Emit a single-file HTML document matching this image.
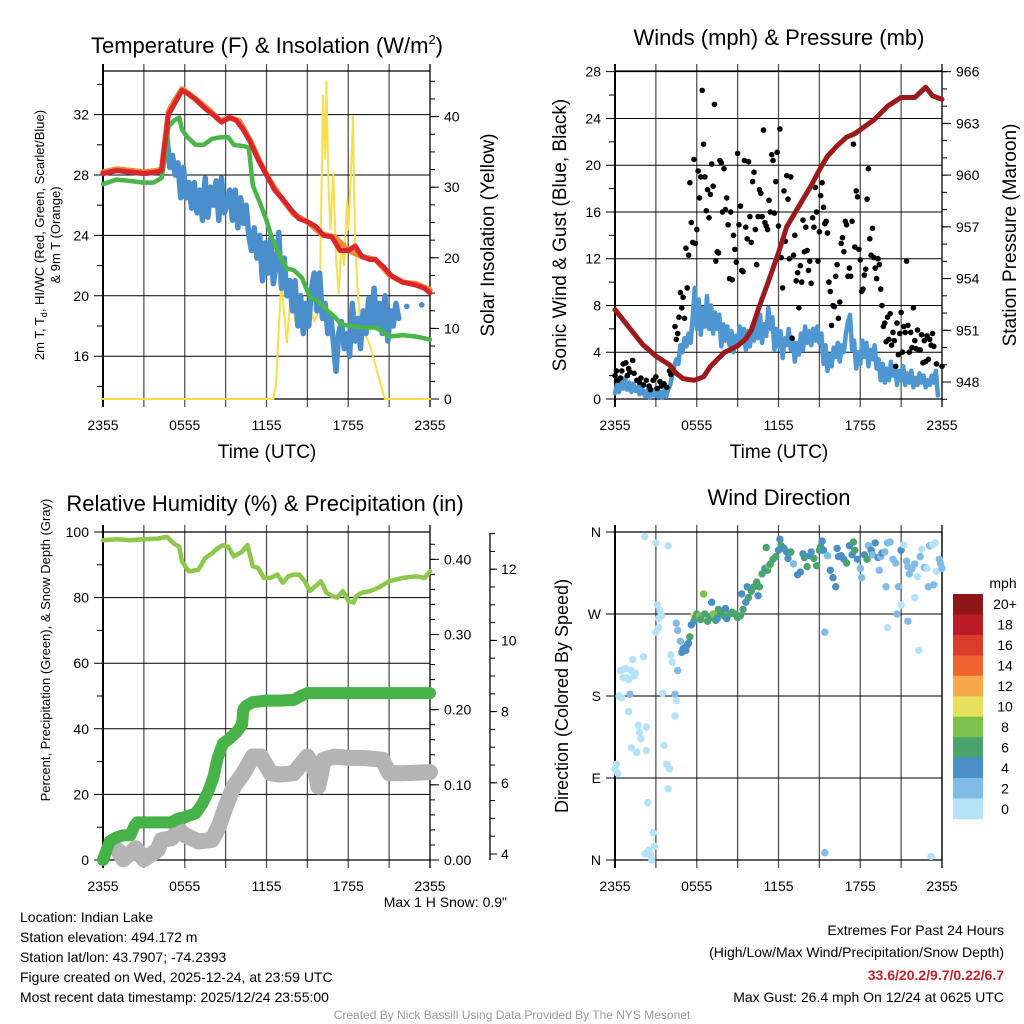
<!DOCTYPE html>
<html><head><meta charset="utf-8"><style>
html,body{margin:0;padding:0;background:#fff}
svg{display:block;font-family:"Liberation Sans",Arial,sans-serif}
</style></head><body>
<svg id="chart" width="1024" height="1024" viewBox="0 0 1024 1024" xmlns="http://www.w3.org/2000/svg">
<g id="static" font-size="14" fill="#000">
<text x="267" y="53" font-size="22" text-anchor="middle">Temperature (F) &amp; Insolation (W/m<tspan dy="-9" font-size="13">2</tspan><tspan dy="9">)</tspan></text>
<text x="779" y="45" font-size="22" text-anchor="middle">Winds (mph) &amp; Pressure (mb)</text>
<text x="265" y="511" font-size="22" text-anchor="middle">Relative Humidity (%) &amp; Precipitation (in)</text>
<text x="779" y="505" font-size="22" text-anchor="middle">Wind Direction</text>
<text x="267" y="458" font-size="19" text-anchor="middle">Time (UTC)</text>
<text x="779" y="458" font-size="19" text-anchor="middle">Time (UTC)</text>
<text transform="translate(44,235) rotate(-90)" font-size="13" text-anchor="middle">2m T, T<tspan font-size="9" dy="3">d</tspan><tspan dy="-3">, HI/WC (Red, Green, Scarlet/Blue)</tspan></text>
<text transform="translate(60,235) rotate(-90)" font-size="13" text-anchor="middle">&amp; 9m T (Orange)</text>
<text transform="translate(494,235) rotate(-90)" font-size="19" text-anchor="middle">Solar Insolation (Yellow)</text>
<text transform="translate(566,235) rotate(-90)" font-size="19" text-anchor="middle">Sonic Wind &amp; Gust (Blue, Black)</text>
<text transform="translate(1016,235) rotate(-90)" font-size="19" text-anchor="middle">Station Pressure (Maroon)</text>
<text transform="translate(50,650) rotate(-90)" font-size="13" text-anchor="middle">Percent, Precipitation (Green), &amp; Snow Depth (Gray)</text>
<text transform="translate(568,696) rotate(-90)" font-size="18" text-anchor="middle">Direction (Colored By Speed)</text>
<text x="507" y="907" text-anchor="end">Max 1 H Snow: 0.9"</text>
<g>
<text x="20" y="922">Location: Indian Lake</text>
<text x="20" y="942">Station elevation: 494.172 m</text>
<text x="20" y="962">Station lat/lon: 43.7907; -74.2393</text>
<text x="20" y="982">Figure created on Wed, 2025-12-24, at 23:59 UTC</text>
<text x="20" y="1002">Most recent data timestamp: 2025/12/24 23:55:00</text>
</g>
<g text-anchor="end">
<text x="1004" y="935">Extremes For Past 24 Hours</text>
<text x="1004" y="957">(High/Low/Max Wind/Precipitation/Snow Depth)</text>
<text x="1004" y="980" fill="#c8202a" font-weight="bold">33.6/20.2/9.7/0.22/6.7</text>
<text x="1004" y="1002">Max Gust: 26.4 mph On 12/24 at 0625 UTC</text>
</g>
<text x="512" y="1019" font-size="12" fill="#999" text-anchor="middle">Created By Nick Bassill Using Data Provided By The NYS Mesonet</text>
</g>
</svg>
<script>
// ---------- DATA ----------
const timeTickLabels = ["2355","0555","1155","1755","2355"];
const tempTicks = [16,20,24,28,32];
const solarTicks = [0,10,20,30,40];
const windTicks = [0,4,8,12,16,20,24,28];
const pressTicks = [948,951,954,957,960,963,966];
const rhTicks = [0,20,40,60,80,100];
const precipTicks = [0,0.1,0.2,0.3,0.4];
const precipTickLabels = ["0.00","0.10","0.20","0.30","0.40"];
const snowTicks = [4,6,8,10,12];
const dirTickLabels = ["N","E","S","W","N"];
const dirTicks = [0,90,180,270,360];
const speedBinLabels = ["20+","18","16","14","12","10","8","6","4","2","0"];
const speedBinColors = ["#8e1518","#ba1b25","#dc3a2b","#ef6530","#f6a84a","#e6e05c","#7dc24b","#4aa46e","#4a8fc7","#80bce6","#b6e2f8"];

const tempTimes = [0,1,2,3,4,4.3,4.6,4.8,5.3,5.8,6.2,6.8,7.5,8.2,8.7,9.3,9.8,10.3,10.8,11.4,12,12.6,13.2,13.8,14.4,15,15.6,16.2,16.8,17.4,18,18.5,19,19.6,20,20.6,21.2,22,23,23.6,24];
const tempValues = [28.1,28.3,28.2,28.1,28.2,28.3,30.5,32,32.8,33.6,33.4,33.0,32.4,31.9,31.5,31.8,31.6,31.0,30.2,29.0,28.0,27.0,26.4,25.7,25.1,24.9,24.6,24.0,23.9,23.0,23.0,23.3,22.6,22.4,22.4,21.9,21.3,20.9,20.7,20.5,20.2];
const temp9mTimes = [0,1,2,3,4,4.3,4.6,4.8,5.3,5.8,6.3,7,7.8,8.6,9.3,10,10.8,11.5,12.2,13,14,15,16,17,18,19,20,21,22,23,24];
const temp9mValues = [28.2,28.4,28.3,28.2,28.3,28.4,30.7,32.2,33.0,33.7,33.4,32.9,32.3,31.6,31.8,31.6,30.3,28.9,27.7,26.6,25.4,24.9,24.1,23.9,23.0,22.6,22.4,21.4,20.9,20.8,20.4];
const dewTimes = [0,1,2,3,3.7,4.3,4.6,4.8,5.2,5.6,5.8,6.2,6.8,7.4,8,8.6,9.2,9.6,10.4,10.7,11,11.5,12,12.4,13,13.5,14,14.6,15.2,15.8,16.5,17,17.5,18.2,19,20,20.6,21,22,23,24];
const dewValues = [27.4,27.7,27.6,27.5,27.5,27.8,29.5,31.2,31.6,31.8,31.0,30.5,30.0,30.0,30.4,30.5,30.5,30.0,29.9,29.8,27.3,26.2,25.0,23.8,22.6,21.8,21.7,21.2,19.9,19.6,19.0,18.6,18.1,18.0,17.9,17.9,17.6,17.3,17.4,17.3,17.1];
const chillTimes = [0,1,2,3,4,4.3,4.5,4.7,4.9,5.1,5.3,5.5,5.7,5.9,6.1,6.3,6.5,6.7,6.9,7.1,7.3,7.5,7.7,7.9,8.1,8.3,8.5,8.7,8.9,9.1,9.3,9.5,9.7,9.9,10.1,10.3,10.5,10.7,10.9,11.1,11.3,11.5,11.7,11.9,12.1,12.3,12.5,12.7,12.9,13.1,13.3,13.5,13.7,13.9,14.1,14.3,14.5,14.7,14.9,15.1,15.3,15.5,15.7,15.9,16.1,16.3,16.5,16.7,16.9,17.1,17.3,17.5,17.7,17.9,18.1,18.3,18.5,18.7,18.9,19.1,19.3,19.5,19.7,19.9,20.1,20.3,20.5,20.7,20.9,21.1,21.3,21.5,21.7];
const chillValues = [28.1,28.3,28.2,28.1,28.2,28.3,29.5,30.5,28.5,29.3,28.0,28.8,26.5,28.5,26.5,27.5,25.8,27.5,25.5,27.0,25.0,27.8,25.2,27.2,26.0,27.6,25.0,27.8,25.5,26.0,27.0,25.0,27.0,24.5,26.5,24.8,26.0,24.0,23.0,24.5,22.5,24.0,21.0,23.5,21.5,23.8,20.8,22.0,24.2,20.5,22.5,20.0,21.0,19.0,21.0,18.0,20.0,17.5,19.5,18.0,20.5,21.5,19.0,21.5,18.5,19.5,17.5,18.8,17.0,15.0,17.5,18.3,16.5,17.5,16.0,19.5,17.0,18.5,16.5,19.0,17.5,19.8,18.0,20.5,18.0,19.5,17.5,20.0,17.0,19.0,18.0,19.5,18.5];
const chillIsolatedTimes = [22.3,23.4];
const chillIsolatedValues = [19.3,19.4];
const solarTimes = [0,12.5,12.7,12.9,13.1,13.3,13.5,13.7,13.9,14.1,14.3,14.5,14.7,14.9,15.1,15.3,15.5,15.7,15.9,16.0,16.15,16.3,16.4,16.55,16.7,16.9,17.1,17.3,17.5,17.7,17.9,18.0,18.2,18.35,18.5,18.7,18.9,19.3,19.7,20.1,20.4,20.7,24];
const solarValues = [0,0,2,10,17,12,8,13,15,11,15,13,14,13,13,12,11,12,13,25,43,34,45,30,24,32,20,15,22,19,28,24,32,40,22,15,10,9,7,4,2,0,0];

const pressTimes = [0,1,2,3,4,4.5,5,5.8,6.5,7,8,9,9.6,10,10.6,11.2,12,12.6,13.5,14.4,15,15.6,16.3,17,17.6,18.3,19,20,21,22,22.8,23.3,24];
const pressValues = [952.2,951.2,950.2,949.5,949.0,948.5,948.2,948.1,948.3,948.9,949.7,950.1,950.5,951.0,952.4,953.7,955.5,957.0,958.2,959.4,960.3,961.1,961.7,962.2,962.4,962.8,963.2,964.0,964.5,964.5,965.1,964.6,964.4];
const sonicTimes = [0,0.15,0.3,0.45,0.6,0.75,0.9,1.05,1.2,1.35,1.5,1.65,1.8,1.95,2.1,2.25,2.4,2.55,2.7,2.85,3.0,3.15,3.3,3.45,3.6,3.75,3.9,4.05,4.2,4.35,4.5,4.65,4.8,4.95,5.1,5.25,5.4,5.55,5.7,5.85,6.0,6.15,6.3,6.45,6.6,6.75,6.9,7.05,7.2,7.35,7.5,7.65,7.8,7.95,8.1,8.25,8.4,8.55,8.7,8.85,9.0,9.15,9.3,9.45,9.6,9.75,9.9,10.05,10.2,10.35,10.5,10.65,10.8,10.95,11.1,11.25,11.4,11.55,11.7,11.85,12.0,12.15,12.3,12.45,12.6,12.75,12.9,13.05,13.2,13.35,13.5,13.65,13.8,13.95,14.1,14.25,14.4,14.55,14.7,14.85,15.0,15.15,15.3,15.45,15.6,15.75,15.9,16.05,16.2,16.35,16.5,16.65,16.8,16.95,17.1,17.25,17.4,17.55,17.7,17.85,18.0,18.15,18.3,18.45,18.6,18.75,18.9,19.05,19.2,19.35,19.5,19.65,19.8,19.95,20.1,20.25,20.4,20.55,20.7,20.85,21.0,21.15,21.3,21.45,21.6,21.75,21.9,22.05,22.2,22.35,22.5,22.65,22.8,22.95,23.1,23.25,23.4,23.55,23.7,23.85,24];
const sonicValues = [0.5,1.2,0.6,1.5,0.9,1.8,0.8,1.4,0.6,1.3,0.7,1.0,0.4,1.1,0.5,0.2,0.8,0.1,0.8,0.3,0.9,0.2,0.6,0.1,0.7,0.2,0.8,1.2,2.0,2.8,3.4,3.0,4.6,4.0,5.2,4.5,5.6,4.8,7.0,9.5,6.0,8.5,5.5,7.8,6.2,8.8,6.0,8.0,5.6,7.4,6.0,7.2,4.5,6.4,5.0,6.2,4.6,5.8,4.0,5.4,4.5,6.2,4.8,6.0,4.2,5.8,4.5,6.2,5.0,6.8,5.2,7.2,4.8,6.4,5.4,7.8,6.0,7.0,4.2,6.0,4.5,5.8,3.5,5.2,4.6,6.0,4.2,5.0,3.2,4.8,3.8,5.6,4.2,6.2,4.8,5.8,4.6,6.0,5.0,6.2,4.8,5.6,3.0,4.6,2.4,3.8,2.8,4.4,3.6,4.8,3.2,4.6,4.0,5.6,6.6,7.2,4.2,5.0,2.6,4.0,3.0,5.0,3.6,4.8,2.8,4.2,3.4,4.6,2.6,3.4,1.6,3.0,1.4,2.6,1.6,3.2,2.0,2.8,1.2,2.4,1.6,2.8,1.2,2.2,1.4,2.4,1.0,1.8,1.2,2.2,1.4,2.0,1.0,1.6,1.2,2.0,1.4,2.4,0.3];
const gustObs = [[0,2],[0.1,2.4],[0.2,1.6],[0.4,1.8],[0.5,2.4],[0.6,3],[0.8,3.1],[0.9,2],[1.0,2.6],[1.1,2.3],[1.3,3.3],[1.4,2.2],[1.6,1.6],[1.8,1.4],[1.9,1.8],[2.1,1.2],[2.3,1.6],[2.5,1.1],[2.6,0.8],[2.8,1.6],[3,1.9],[3.1,0.9],[3.3,1.5],[3.4,1.1],[3.6,1.3],[3.8,1.0],[4.0,2.4],[4.1,2.1],
[4.4,6.2],[4.5,5.1],[4.6,5.6],[4.7,7],[4.8,9.1],[4.9,7.8],[5.0,8.7],[5.1,6.9],[5.2,12.9],[5.3,9.5],[5.4,12.3],[5.5,18.5],[5.6,15.1],[5.7,13.4],[5.8,20.5],[5.9,13.3],[6.0,14.5],[6.1,19.5],[6.2,17.2],[6.3,19.0],[6.4,26.4],[6.5,21.8],[6.6,19.0],[6.7,16.1],[6.8,17.9],[6.9,15.5],[7.0,17.5],[7.1,20.1],[7.2,18.2],[7.3,25.2],[7.4,11.8],[7.5,12.6],[7.6,12.5],[7.7,20.4],[7.8,20.2],[7.9,16],[8.0,19.7],[8.1,16.2],[8.2,17.2],[8.3,14.9],[8.4,10.3],[8.5,16],[8.6,10.2],[8.7,14],[8.8,12.8],[8.9,11.7],[9.0,21],[9.1,14.9],[9.2,16.5],[9.3,11],[9.4,10.9],[9.5,20.4],[9.6,14.7],[9.7,13.7],[9.8,20.3],[9.9,15.6],[10.0,13.4],[10.1,18.6],[10.2,19.4],[10.3,14.5],[10.4,11.5],[10.5,15.6],[10.6,17.9],[10.7,17.6],[10.8,15.6],[10.9,23],[11.0,15.1],[11.1,14.8],[11.2,14.5],[11.3,17.0],[11.4,16.0],[11.5,20.9],[11.6,20.4],[11.7,15.9],[11.8,18.6],[11.9,21.1],[12.0,14.8],[12.1,23.1],[12.2,12.1],[12.3,9.5],[12.4,17.8],[12.5,13.5],[12.6,19.1],[12.7,17.1],[12.8,12],[12.9,19],[13.0,5.2],[13.1,12.3],[13.2,14],[13.3,10.1],[13.4,10.8],[13.5,7.8],[13.6,11.4],[13.7,10],[13.8,15.3],[13.9,12.6],[14.0,14.7],[14.1,12.7],[14.2,11],[14.3,11.8],[14.4,9.9],[14.5,15.5],[14.6,14.7],[14.7,18.1],[14.8,16],[14.9,11.8],[15.0,14.3],[15.1,17.4],[15.2,18.5],[15.3,16.4],[15.4,15.0],[15.5,15.2],[15.6,14.2],[15.7,10.0],[15.8,9.2],[15.9,6.3],[16.0,8.0],[16.1,7.9],[16.2,10.5],[16.3,11.5],[16.4,6.9],[16.5,8.3],[16.6,13.3],[16.7,13.8],[16.8,12.6],[16.9,15.2],[17.0,14.9],[17.1,10.5],[17.2,11.2],[17.3,10.5],[17.4,15.2],[17.5,21.8],[17.6,13.0],[17.7,17.8],[17.8,17.3],[17.9,12.8],[18.0,11.9],[18.1,9.2],[18.2,9.4],[18.3,10.6],[18.4,11.1],[18.5,17.1],[18.6,19.7],[18.7,13.7],[18.8,12.3],[18.9,14.6],[19.0,12.1],[19.1,11.2],[19.2,10.3],[19.3,12],[19.4,11.5],[19.5,9.4],[19.6,8.0],[19.7,6.2],[19.8,6.5],[19.9,4.9],[20.0,7.0],[20.1,5.1],[20.2,7.3],[20.3,4.6],[20.4,5.7],[20.5,5.0],[20.6,2.8],[20.7,6.5],[20.8,3.8],[20.9,5.6],[21.0,7.4],[21.1,4.0],[21.2,6.2],[21.3,5.7],[21.4,11.8],[21.5,6.3],[21.6,4.0],[21.7,5.7],[21.8,4.4],[21.9,7.8],[22.0,5.0],[22.1,4.3],[22.2,5.9],[22.3,4.2],[22.4,4.2],[22.5,5.5],[22.6,3.1],[22.7,5.0],[22.8,3.2],[22.9,5.4],[23.0,3.4],[23.1,5.1],[23.2,4.6],[23.3,5.6],[23.4,4.5],[23.6,3.0],[24,2.8]];

const rhTimes = [0,1,2,3,4,4.7,5.2,5.6,5.8,6.3,7,7.5,8,8.4,8.8,9.2,9.6,10.2,10.6,11,11.4,11.8,12.3,12.8,13.2,13.6,14,14.4,14.8,15.2,15.6,16,16.4,16.8,17.2,17.6,18,18.4,18.6,19,19.6,20.2,20.6,21,22,23,23.6,24];
const rhValues = [97.5,97.8,97.5,97.8,98,98.5,96.5,95.5,91,88,88.5,92,93.5,95,96,95.5,92.5,94,96,89.5,89,86,86,87,84.5,86.5,87,87,85,82,83.5,85,81.5,80.5,80,82,79,78.5,80.5,81.5,82,83,84,85,86,86.5,86,88];
const precipTimes = [0,0.2,0.5,1,1.5,2,2.3,2.5,3,4,5,5.5,6,6.8,7.3,7.7,8.1,8.4,8.8,9.2,9.8,10.2,10.3,10.5,11,12,13,14,14.5,15,24];
const precipValues = [0,0.01,0.025,0.03,0.033,0.033,0.045,0.05,0.05,0.05,0.05,0.055,0.057,0.062,0.075,0.09,0.11,0.135,0.155,0.16,0.17,0.18,0.2,0.205,0.21,0.212,0.212,0.213,0.218,0.222,0.222];
const snowTimes = [1.1,1.5,2.4,3,4,4.3,5,5.6,6,7,8,8.5,9,9.6,10.3,11,11.6,12.3,13,14,15,15.6,15.8,16.2,17,18,19,20.5,21,22,24];
const snowValues = [4.1,3.85,4.16,3.85,4.11,4.39,4.44,4.67,4.53,4.35,4.4,4.77,5.33,5.9,6.27,6.74,6.74,6.27,6.23,6.27,6.74,6.3,5.9,6.65,6.74,6.7,6.7,6.65,6.27,6.27,6.3];

// [hour, direction deg, speed mph]
const dirObs = [[0,100,1],[0.1,105,1],[0.2,95,1],[0.3,180,1],[0.4,208,1],[0.5,178,1],[0.6,200,1],[0.7,210,1],[0.8,210,1],[0.9,200,1],[1.0,198,1],[1.1,182,3],[1.2,208,1],[1.3,220,1],[1.4,202,1],[1.5,205,1],[1.0,163,1],[1.2,123,1],[1.6,118,1],[1.7,148,1],[1.8,140,1],[1.9,133,1],[2.1,223,1],[2.2,7,1],[2.3,146,1],[2.4,63,1],[2.5,11,1],[2.6,5,1],[2.7,0,1],[2.8,30,1],[2.3,120,1],[2.2,355,1],[2.9,15,1],[3.0,348,1],[3.0,250,1],[3.2,255,1],[3.1,280,1],[3.3,274,1],[3.2,265,1],[3.5,183,1],[3.6,126,1],[3.8,105,1],[3.9,78,1],[4.0,100,1],[4.1,225,1],[4.2,217,1],[4.4,182,3],[4.5,175,1],[4.4,158,1],[3.9,345,1],[3.4,268,1],[4.6,208,3],
[4.5,260,3],[4.6,252,3],[4.8,240,3],[4.9,228,4],[5.0,232,4],[5.1,233,4],[5.2,230,4],[5.3,236,4],[5.5,245,6],[5.6,258,4],[5.8,262,4],[5.4,238,4],[5.8,268,10],[5.9,266,6],[6.0,270,7],[6.2,268,8],[6.3,264,6],[6.5,292,8],[6.6,270,6],[6.8,262,6],[7.0,266,7],[7.1,283,4],[7.2,270,8],[7.4,263,6],[7.5,265,4],[7.6,275,6],[7.8,271,7],[8.0,268,6],[8.2,265,5],[8.4,270,7],[8.6,272,6],[8.1,276,4],[8.8,270,7],[9.0,266,6],[9.2,268,6],[9.3,292,4],[9.4,275,6],[9.6,283,4],[9.7,300,4],[9.8,288,6],[10.0,295,6],[10.2,300,7],[10.4,305,6],[10.5,290,4],[10.6,300,6],[10.8,314,6],[11.0,320,4],[11.1,343,6],[11.2,318,6],[11.3,323,8],[11.4,325,6],[11.6,330,6],[11.8,333,6],[12.0,340,4],[12.1,352,4],[12.2,345,6],[12.4,342,4],[12.6,338,4],[12.7,331,4],[12.9,338,6],[13.1,325,2],[13.4,313,4],[13.6,316,4],[13.8,336,4],[13.9,332,6],[14.1,322,6],[14.3,334,5],[14.4,338,4],[14.6,331,6],[14.8,323,6],[15.0,340,6],[15.1,344,6],[15.2,350,4],[15.3,340,4],[15.4,250,3],[15.4,8,3],[15.6,334,2],[15.8,318,4],[16.0,310,4],[16.2,300,4],[16.3,342,4],[16.4,333,4],[16.6,334,4],[16.8,330,4],[17.0,326,6],[17.2,345,4],[17.4,335,4],[17.5,349,6],[17.6,340,6],[17.8,330,4],[18.0,320,3],[18.1,310,3],[18.3,335,4],[18.5,330,6],[18.6,345,3],[18.8,340,4],[18.9,335,3],[19.1,348,4],[19.3,332,4],[19.4,318,2],[19.5,333,3],[19.6,337,4],[19.8,338,3],[20.0,348,3],[20.2,349,2],[20.4,330,3],[20.6,326,2],[20.7,270,3],[20.8,300,2],[21.0,340,4],[21.2,346,1],[21.4,328,3],[21.5,322,2],[21.6,314,2],[21.8,320,3],[22.0,325,2],[22.2,311,1],[22.4,333,3],[22.5,341,1],[22.7,321,2],[22.9,320,1],[23.0,300,2],[23.1,345,2],[23.3,346,1],[23.4,302,2],[23.6,317,1],[23.8,330,2],[23.9,325,2],[22.0,288,1],[21.0,280,1],[21.5,262,2],[22.3,230,1],[20.0,255,1],[23.2,4,1],[23.5,348,1],[24.0,320,2],[19.9,300,2]];

// ---------- RENDER ----------
const NS = "http://www.w3.org/2000/svg";
const svg = document.getElementById('chart');
function mk(tag, attrs, parent) {
  const e = document.createElementNS(NS, tag);
  for (const k in attrs) e.setAttribute(k, attrs[k]);
  (parent || svg).appendChild(e);
  return e;
}
function group(name) {
  const g = mk('g', {});
  
  
  return g;
}
function line(g, x1, y1, x2, y2, stroke, w) {
  return mk('line', {x1:x1, y1:y1, x2:x2, y2:y2, stroke:stroke, 'stroke-width':w}, g);
}
function txt(g, x, y, s, anchor, size) {
  const t = mk('text', {x:x, y:y, 'text-anchor':anchor, 'font-size':size || 14}, g);
  t.textContent = s;
  return t;
}
function polyline(g, xs, ys, xf, yf, color, w, name) {
  const pts = xs.map((t, i) => xf(t).toFixed(1) + ',' + yf(ys[i]).toFixed(1)).join(' ');
  const p = mk('polyline', {points:pts, fill:'none', stroke:color, 'stroke-width':w, 'stroke-linejoin':'round', 'stroke-linecap':'round'}, g);
  
  
  return p;
}
function speedColor(s) {
  const bins = [2,4,6,8,10,12,14,16,18,20];
  let i = 0;
  while (i < bins.length && s >= bins[i]) i++;
  return speedBinColors[10 - i];
}

const X0 = 103, X1 = 430, X0b = 615, X1b = 942;
const xA = t => X0 + t / 24 * (X1 - X0);
const xB = t => X0b + t / 24 * (X1b - X0b);

function frame(g, x0, x1, y0, y1, hVals, yf, hLabels) {
  for (let h = 0; h <= 24; h += 3) {
    const x = x0 + h / 24 * (x1 - x0);
    line(g, x, y0 - 7, x, y1 + 8, (h === 0 || h === 24) ? '#000' : '#555', (h === 0) ? 2 : 1.3);
  }
  hVals.forEach((v, i) => {
    const y = yf(v);
    line(g, x0 - 9, y, x1, y, '#000', 1);
    if (hLabels) txt(g, x0 - 14, y + 5, hLabels[i], 'end', 14);
  });
  line(g, x0, y0, x1, y0, '#000', 1.2);
  line(g, x0, y1, x1, y1, '#000', 1.2);
  timeTickLabels.forEach((s, i) => txt(g, x0 + i * 6 / 24 * (x1 - x0), y1 + 31, s, 'middle', 14));
}
function rightAxis(g, x, vals, yf, labels, minorVals) {
  (minorVals || []).forEach(v => line(g, x, yf(v), x + 5, yf(v), '#000', 1));
  vals.forEach((v, i) => {
    line(g, x, yf(v), x + 9, yf(v), '#000', 1);
    txt(g, x + 14, yf(v) + 5, labels[i], 'start', 14);
  });
}
function range(a, b, s) { const r = []; for (let v = a; v <= b + 1e-9; v += s) r.push(+v.toFixed(4)); return r; }

// Panel 1
(function () {
  const yT = v => 175 - (v - 28) * 15.1;
  const yS = v => 399 - v * 7.06;
  const g = group('temperature-panel');
  frame(g, X0, X1, 71, 399, tempTicks, yT, tempTicks.map(String));
  range(14, 34, 2).forEach(v => { if (v % 4) line(g, X0 - 6, yT(v), X0, yT(v), '#000', 1); });
  rightAxis(g, X1, solarTicks, yS, solarTicks.map(String), range(0, 45, 2.5));
  polyline(g, solarTimes, solarValues, xA, yS, '#f7de4a', 2, 'insolation-line');
  polyline(g, chillTimes, chillValues, xA, yT, '#4a8fcb', 5.5, 'wind-chill-line');
  chillIsolatedTimes.forEach((t, i) => {
    const c = mk('circle', {cx:xA(t), cy:yT(chillIsolatedValues[i]), r:2.8, fill:'#4a8fcb'}, g);
    
    
  });
  polyline(g, dewTimes, dewValues, xA, yT, '#4bb44a', 4.5, 'dewpoint-line');
  polyline(g, temp9mTimes, temp9mValues, xA, yT, '#f08a3a', 5.5, 'temp-9m-line');
  polyline(g, tempTimes, tempValues, xA, yT, '#d8262a', 5, 'temp-2m-line');
})();

// Panel 2
(function () {
  const yW = v => 399 - v * 11.69;
  const yP = v => 382 - (v - 948) * 17.24;
  const g = group('wind-panel');
  frame(g, X0b, X1b, 71, 399, windTicks, yW, windTicks.map(String));
  range(2, 26, 4).forEach(v => line(g, X0b - 6, yW(v), X0b, yW(v), '#000', 1));
  rightAxis(g, X1b, pressTicks, yP, pressTicks.map(String), range(947, 966, 1));
  polyline(g, sonicTimes, sonicValues, xB, yW, '#4f97d2', 4.5, 'sonic-wind-line');
  gustObs.forEach(o => {
    const c = mk('circle', {cx:xB(o[0]).toFixed(1), cy:yW(o[1]).toFixed(1), r:2.8, fill:'#000'}, g);
    
    
  });
  polyline(g, pressTimes, pressValues, xB, yP, '#9b1a1c', 5, 'pressure-line');
})();

// Panel 3
(function () {
  const yH = v => 860 - v * 3.28;
  const yPr = v => 860 - v * 751.7;
  const ySn = v => 854 - (v - 4) * 35.6;
  const g = group('humidity-panel');
  frame(g, X0, X1, 532, 860, rhTicks, yH, rhTicks.map(String));
  range(10, 90, 20).forEach(v => line(g, X0 - 6, yH(v), X0, yH(v), '#000', 1));
  rightAxis(g, X1, precipTicks, yPr, precipTickLabels, range(0, 0.43, 0.02));
  const sx = 490;
  line(g, sx, 533, sx, 860, '#000', 1.3);
  range(3.5, 13, 0.5).forEach(v => { if (ySn(v) >= 533 && ySn(v) <= 860) line(g, sx, ySn(v), sx + 5, ySn(v), '#000', 1); });
  snowTicks.forEach(v => { line(g, sx, ySn(v), sx + 7, ySn(v), '#000', 1); txt(g, sx + 11, ySn(v) + 5, String(v), 'start', 14); });
  polyline(g, snowTimes, snowValues, xA, ySn, '#b4b4b4', 16, 'snow-depth-line');
  polyline(g, precipTimes, precipValues, xA, yPr, '#46b248', 12, 'precipitation-line');
  polyline(g, rhTimes, rhValues, xA, yH, '#8dc84c', 4.5, 'humidity-line');
})();

// Panel 4
(function () {
  const yD = d => 860 - d * 328 / 360;
  const g = group('direction-panel');
  frame(g, X0b, X1b, 532, 860, dirTicks, yD, dirTickLabels);
  line(g, X1b, 532, X1b, 860, '#000', 1.2);
  dirObs.forEach(o => {
    const c = mk('circle', {cx:xB(o[0]).toFixed(1), cy:yD(o[1]).toFixed(1), r:3.7, fill:speedColor(o[2])}, g);
    
    
  });
  const lg = group('speed-colorbar');
  txt(lg, 1003, 588, 'mph', 'middle', 14);
  const h = 225 / speedBinColors.length;
  speedBinColors.forEach((c, i) => {
    const r = mk('rect', {x:953, y:(594 + i * h).toFixed(1), width:30, height:(h + 0.3).toFixed(1), fill:c}, lg);
    
    
    txt(lg, 1005, 594 + i * h + h / 2 + 5, speedBinLabels[i], 'middle', 14);
  });
})();
</script>
</body></html>
